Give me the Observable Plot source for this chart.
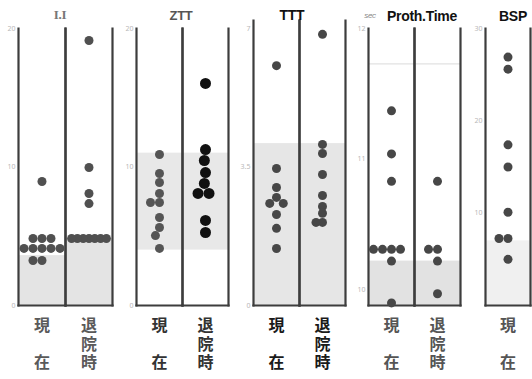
<!DOCTYPE html>
<html><head><meta charset="utf-8">
<script src="https://cdn.jsdelivr.net/npm/d3@7"></script>
<script src="https://cdn.jsdelivr.net/npm/@observablehq/plot@0.6"></script>
<style>
body{margin:0;background:#fff;}
#wrap{position:relative;width:532px;height:379px;overflow:hidden;background:#fff;}
.panel{position:absolute;top:0;}
.ttl{position:absolute;white-space:nowrap;font-family:"Liberation Sans",Arial,sans-serif;font-weight:bold;transform:translate(-50%,-50%);}
</style></head><body><div id="wrap"></div>
<script>
// ---- data ----
const columns = ["現在", "退院時"];
const panelNames = ["I.I", "ZTT", "TTT", "Proth.Time", "BSP"];

// I.I
const iiNow = [8.95, 4.84, 4.84, 4.84, 4.12, 4.12, 4.12, 4.12, 4.12, 3.25, 3.25];
const iiDischarge = [19.13, 9.96, 8.09, 7.36, 4.84, 4.84, 4.84, 4.84, 4.84, 4.84, 4.84];
const iiNormalNow = [0, 3.6];
const iiNormalDischarge = [0, 4.84];
const iiTicks = [0, 10, 20];

// ZTT
const zttNow = [10.9, 9.53, 8.88, 8.09, 7.44, 7.44, 6.35, 5.63, 5.05, 4.12];
const zttDischarge = [16.03, 11.26, 10.47, 9.6, 8.81, 8.09, 8.09, 6.14, 5.27];
const zttNormal = [4, 11];
const zttTicks = [0, 10, 20];

// TTT
const tttNow = [6.06, 3.46, 2.98, 2.73, 2.58, 2.58, 2.3, 1.95, 1.44];
const tttDischarge = [6.85, 4.07, 3.84, 3.31, 2.78, 2.5, 2.33, 2.1, 2.1];
const tttNormal = [0, 4.09];
const tttTicks = [0, 3.5, 7];

// Proth.Time (sec)
const prothNow = [11.37, 11.04, 10.83, 10.31, 10.31, 10.31, 10.31, 10.22, 9.9];
const prothDischarge = [10.83, 10.31, 10.31, 10.22, 9.97];
const prothNormal = [9.88, 10.22];
const prothUpperLine = [11.73];
const prothTicks = [10, 11, 12];

// BSP
const bspNow = [26.9, 25.6, 17.4, 15.0, 10.1, 7.26, 7.26, 5.0];
const bspNormal = [0, 7];
const bspTicks = [10, 20, 30];

// ---- layout ----
const wrap = document.getElementById("wrap");

function panel(cfg) {
  const cols = cfg.cols;
  const shade = cols.map((c, i) => ({col: c, lo: cfg.shade[i][0], hi: cfg.shade[i][1]}));
  const dots = cols.map((c, i) =>
    Plot.dot(cfg.values[i].map(v => ({col: c, v})),
      Plot.dodgeX({anchor: "middle", padding: cfg.pad[i]},
        {fx: "col", y: "v", r: cfg.r[i], fill: cfg.fill[i]})));
  const marks = [
    Plot.rect(shade, {fx: "col", y1: "lo", y2: "hi", fill: cfg.shadeFill}),
    ...(cfg.refLine ? [Plot.ruleY(cfg.refLine, {stroke: "#e2e2e2", strokeWidth: 1.2})] : []),
    Plot.frame({anchor: "left", stroke: "#3d3d3d", strokeWidth: 2.2}),
    Plot.frame({anchor: "right", stroke: "#3d3d3d", strokeWidth: 2.2}),
    Plot.frame({anchor: "bottom", stroke: "#3d3d3d", strokeWidth: 2.2}),
    ...dots,
    Plot.axisY({ticks: cfg.ticks, tickFormat: d => String(d), tickSize: 0, tickPadding: 3, label: null, fontSize: 7, color: "#b8b8b8"}),
    Plot.axisFx({anchor: "bottom", tickSize: 0, tickPadding: 12, label: null,
      fontSize: 16, fontWeight: "bold", fontFamily: "'Noto Sans CJK JP'", lineHeight: 1.17,
      color: cfg.labelColor,
      tickFormat: d => d.length === 2 ? d[0] + "\n\u3000\n" + d[1] : [...d].join("\n")})
  ];
  const chart = Plot.plot({
    width: cfg.width, height: 379,
    marginLeft: cfg.marginLeft, marginRight: 2, marginTop: cfg.marginTop, marginBottom: 74,
    fx: {domain: cols, padding: 0},
    y: {domain: cfg.domain},
    style: {background: "transparent", overflow: "visible"},
    marks
  });
  chart.classList.add("panel");
  chart.style.left = cfg.left + "px";
  wrap.appendChild(chart);
}

panel({cols: columns, values: [iiNow, iiDischarge], shade: [iiNormalNow, iiNormalDischarge],
  domain: [0, 20], ticks: iiTicks, left: 0, marginLeft: 17, width: 114, marginTop: 28,
  r: [4.5, 4.5], pad: [0, -3.2], fill: ["#505050", "#505050"], shadeFill: "#e4e4e4", labelColor: "#5a5a5a"});
panel({cols: columns, values: [zttNow, zttDischarge], shade: [zttNormal, zttNormal],
  domain: [0, 20], ticks: zttTicks, left: 113, marginLeft: 22, width: 117, marginTop: 28,
  r: [4.5, 5.5], pad: [0, 0], fill: ["#555555", "#111111"], shadeFill: "#e8e8e8", labelColor: "#333"});
panel({cols: columns, values: [tttNow, tttDischarge], shade: [tttNormal, tttNormal],
  domain: [0, 7.2], ticks: tttTicks, left: 230, marginLeft: 22, width: 117, marginTop: 20,
  r: [4.5, 4.5], pad: [0, -2.5], fill: ["#474747", "#474747"], shadeFill: "#e6e6e6", labelColor: "#1a1a1a"});
panel({cols: columns, values: [prothNow, prothDischarge], shade: [prothNormal, prothNormal],
  domain: [9.88, 12], ticks: prothTicks, left: 346, marginLeft: 22, width: 116, marginTop: 28,
  refLine: prothUpperLine,
  r: [4.5, 4.5], pad: [0, 0], fill: ["#474747", "#474747"], shadeFill: "#e2e2e2", labelColor: "#555"});
panel({cols: [columns[0]], values: [bspNow], shade: [bspNormal],
  domain: [0, 30], ticks: bspTicks, left: 465, marginLeft: 20, width: 67, marginTop: 28,
  r: [4.5], pad: [0], fill: ["#474747"], shadeFill: "#f0f0f0", labelColor: "#555"});

// titles
const titles = [
  {t: panelNames[0], x: 60, y: 15, size: 13, color: "#777", family: "'Liberation Serif', serif"},
  {t: panelNames[1], x: 181, y: 15, size: 13, color: "#555"},
  {t: panelNames[2], x: 292, y: 15, size: 14, color: "#111"},
  {t: panelNames[3], x: 422, y: 16, size: 14, color: "#111"},
  {t: panelNames[4], x: 513, y: 16, size: 14, color: "#111"},
  {t: "sec", x: 370, y: 15, size: 8, color: "#888", italic: true, weight: "normal"}
];
for (const d of titles) {
  const el = document.createElement("div");
  el.className = "ttl";
  el.textContent = d.t;
  el.style.left = d.x + "px";
  el.style.top = d.y + "px";
  el.style.fontSize = d.size + "px";
  el.style.color = d.color;
  if (d.family) el.style.fontFamily = d.family;
  if (d.italic) el.style.fontStyle = "italic";
  if (d.weight) el.style.fontWeight = d.weight;
  el.style.letterSpacing = "-0.3px";
  wrap.appendChild(el);
}
</script></body></html>
